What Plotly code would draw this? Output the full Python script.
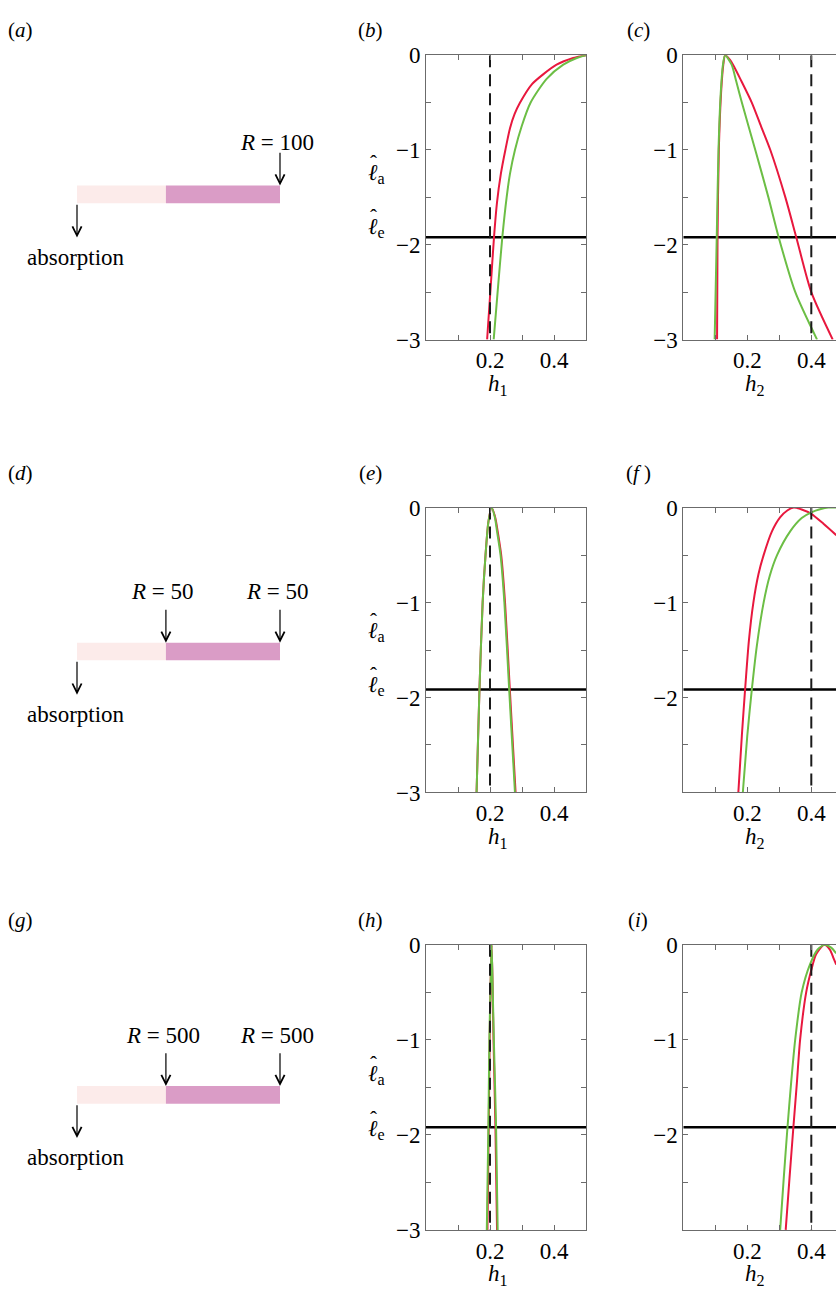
import plotly.graph_objects as go

W, H = 836, 1305
SERIF = "Liberation Serif, Times New Roman, Times, serif"
RED = "#E8183E"
GREEN = "#6CBE45"
AXC = "#6b6b6b"
LIGHT_PINK = "#FCEBEA"
DARK_PINK = "#DA9CC6"

# ---------------- data ----------------
# panel (b): l-hat vs h1, R=100
b_red_h = [0.191, 0.202, 0.2125, 0.222, 0.234, 0.248, 0.2625, 0.277, 0.294, 0.33, 0.367, 0.408, 0.46, 0.5]
b_red_v = [-3.0, -2.45, -1.92, -1.55, -1.25, -1.0, -0.77, -0.62, -0.5, -0.31, -0.2, -0.1, -0.03, 0.0]
b_green_h = [0.2115, 0.225, 0.2385, 0.252, 0.2625, 0.278, 0.299, 0.327, 0.377, 0.429, 0.471, 0.5]
b_green_v = [-3.0, -2.45, -1.92, -1.5, -1.25, -1.0, -0.75, -0.5, -0.25, -0.1, -0.03, 0.0]
# panel (c): l-hat vs h2, R=100
c_red_h = [0.1055, 0.107, 0.111, 0.118, 0.125, 0.131, 0.146, 0.160, 0.178, 0.214, 0.243, 0.272, 0.319, 0.353, 0.400, 0.467]
c_red_v = [-3.0, -1.92, -1.0, -0.4, -0.1, 0.0, -0.05, -0.13, -0.25, -0.5, -0.75, -1.0, -1.5, -1.92, -2.5, -3.0]
c_green_h = [0.098, 0.1045, 0.110, 0.117, 0.124, 0.1306, 0.151, 0.165, 0.183, 0.225, 0.266, 0.298, 0.350, 0.418]
c_green_v = [-3.0, -1.92, -1.0, -0.4, -0.1, 0.0, -0.1, -0.27, -0.5, -1.0, -1.5, -1.92, -2.5, -3.0]
# panel (e): l-hat vs h1, R=50/50
e_red_h = [0.158, 0.167, 0.177, 0.186, 0.195, 0.205, 0.216, 0.224, 0.235, 0.247, 0.262, 0.280]
e_red_v = [-3.0, -1.92, -1.0, -0.5, -0.15, 0.0, -0.1, -0.25, -0.5, -1.0, -1.92, -3.0]
e_green_h = [0.158, 0.167, 0.177, 0.186, 0.195, 0.205, 0.215, 0.222, 0.233, 0.245, 0.260, 0.278]
e_green_v = [-3.0, -1.92, -1.0, -0.5, -0.15, 0.0, -0.1, -0.25, -0.5, -1.0, -1.92, -3.0]
# panel (f): l-hat vs h2, R=50/50
f_red_h = [0.172, 0.183, 0.193, 0.205, 0.219, 0.235, 0.251, 0.277, 0.303, 0.325, 0.345, 0.370, 0.400, 0.438, 0.478]
f_red_v = [-3.0, -2.4, -1.92, -1.4, -1.0, -0.7, -0.5, -0.25, -0.1, -0.03, 0.0, -0.02, -0.066, -0.17, -0.29]
f_green_h = [0.186, 0.200, 0.214, 0.230, 0.251, 0.270, 0.293, 0.334, 0.370, 0.400, 0.430, 0.453, 0.478]
f_green_v = [-3.0, -2.4, -1.92, -1.45, -1.0, -0.72, -0.5, -0.25, -0.11, -0.05, -0.015, 0.0, 0.0]
# panel (h): l-hat vs h1, R=500/500
h_red_h = [0.192, 0.196, 0.199, 0.202, 0.205, 0.208, 0.211, 0.217, 0.222]
h_red_v = [-3.0, -1.92, -1.0, -0.4, 0.0, -0.4, -1.0, -1.92, -3.0]
h_green_h = [0.190, 0.195, 0.198, 0.202, 0.205, 0.208, 0.212, 0.219, 0.224]
h_green_v = [-3.0, -1.92, -1.0, -0.4, 0.0, -0.4, -1.0, -1.92, -3.0]
# panel (i): l-hat vs h2, R=500/500
i_red_h = [0.320, 0.332, 0.344, 0.355, 0.365, 0.384, 0.400, 0.415, 0.440, 0.458, 0.470, 0.478]
i_red_v = [-3.0, -2.45, -1.92, -1.45, -1.0, -0.5, -0.265, -0.1, 0.0, -0.05, -0.145, -0.21]
i_green_h = [0.3027, 0.314, 0.3256, 0.337, 0.3496, 0.370, 0.3966, 0.420, 0.442, 0.462, 0.478]
i_green_v = [-3.0, -2.45, -1.92, -1.45, -1.0, -0.5, -0.2, -0.05, 0.0, -0.03, -0.09]

# reference lines
h_star = [0.2, 0.4]            # dashed verticals: h1 panels, h2 panels
l_e = [-1.92, -1.915, -1.92]    # horizontal l_e line per row

# axis ticks
x_major = [0.2, 0.4]
x_major_labels = ["0.2", "0.4"]
x_minor = [0.1, 0.3]
y_major_full = [-3, -2, -1, 0]
y_major_full_labels = ["−3", "−2", "−1", "0"]
y_major_short = [-2, -1, 0]
y_major_short_labels = ["−2", "−1", "0"]
y_minor = [-2.5, -1.5, -0.5]

# schematic data
segment_edges = [0.0, 0.438, 1.0]
reflector_pos = [[1.0], [0.438, 1.0], [0.438, 1.0]]
reflector_labels = [["<i>R</i> = 100"], ["<i>R</i> = 50", "<i>R</i> = 50"], ["<i>R</i> = 500", "<i>R</i> = 500"]]
absorption_pos = 0.0

# ---------------- layout geometry (pixels) ----------------
def fx(p):
    return p / W

def fy(p):
    return 1 - p / H

col_h1 = (426.0, 586.0)
col_h2 = (683.3, 836.0)
H2_MAX = 0.5 * (col_h2[1] - col_h2[0]) / (col_h1[1] - col_h1[0])
rows = [(44.0, 334.0), (505.3, 795.7), (951.0, 1241.7)]
bar_centers = [186.0, 652.0, 1104.0]
label_rows = [18.0, 470.0, 926.0]

fig = go.Figure()
layout = dict(
    width=W, height=H, margin=dict(l=0, r=0, t=0, b=0),
    paper_bgcolor="white", plot_bgcolor="white", showlegend=False,
)

panels = [
    ("(<i>b</i>)", 0, 0, [(b_red_h, b_red_v, RED), (b_green_h, b_green_v, GREEN)]),
    ("(<i>c</i>)", 0, 1, [(c_red_h, c_red_v, RED), (c_green_h, c_green_v, GREEN)]),
    ("(<i>e</i>)", 1, 0, [(e_red_h, e_red_v, RED), (e_green_h, e_green_v, GREEN)]),
    ("(<i>f</i> )", 1, 1, [(f_red_h, f_red_v, RED), (f_green_h, f_green_v, GREEN)]),
    ("(<i>h</i>)", 2, 0, [(h_red_h, h_red_v, RED), (h_green_h, h_green_v, GREEN)]),
    ("(<i>i</i>)", 2, 1, [(i_red_h, i_red_v, RED), (i_green_h, i_green_v, GREEN)]),
]

annotations = []
shapes = []
tickfont = dict(family=SERIF, size=23, color="black")
minor_style = dict(ticks="inside", ticklen=5, tickcolor=AXC, tickwidth=1, showgrid=False)

for k, (lab, r, c, curves) in enumerate(panels):
    n = k + 1
    xa = "x" if n == 1 else f"x{n}"
    ya = "y" if n == 1 else f"y{n}"
    col = col_h1 if c == 0 else col_h2
    xmax = 0.5 if c == 0 else H2_MAX
    top, bot = rows[r]
    full = (c == 0 or r == 0)
    layout["xaxis" if n == 1 else f"xaxis{n}"] = dict(
        domain=[fx(col[0]), min(1.0, fx(col[1]))], anchor=ya, range=[0, xmax],
        showline=True, linecolor=AXC, linewidth=1, mirror="ticks",
        ticks="inside", ticklen=5, tickcolor=AXC, tickwidth=1,
        tickvals=x_major, ticktext=x_major_labels, tickfont=tickfont,
        minor=dict(tickvals=x_minor, **minor_style),
        showgrid=False, zeroline=False, fixedrange=True,
    )
    layout["yaxis" if n == 1 else f"yaxis{n}"] = dict(
        domain=[fy(bot), fy(top)], anchor=xa, range=[-3, 0],
        showline=True, linecolor=AXC, linewidth=1,
        mirror="ticks" if c == 0 else False,
        ticks="inside", ticklen=5, tickcolor=AXC, tickwidth=1,
        tickvals=(y_major_full if full else y_major_short),
        ticktext=(y_major_full_labels if full else y_major_short_labels),
        minor=dict(tickvals=y_minor, **minor_style),
        tickfont=tickfont, showgrid=False, zeroline=False, fixedrange=True,
    )
    # horizontal l_e line
    fig.add_trace(go.Scatter(x=[0, xmax], y=[l_e[r], l_e[r]], mode="lines",
                             line=dict(color="black", width=2.6), xaxis=xa, yaxis=ya,
                             hoverinfo="skip"))
    # curves
    for hx, vy, colr in curves:
        fig.add_trace(go.Scatter(x=hx, y=vy, mode="lines",
                                 line=dict(color=colr, width=2, shape="spline", smoothing=0.7),
                                 xaxis=xa, yaxis=ya))
    # dashed vertical
    hs = h_star[c]
    fig.add_trace(go.Scatter(x=[hs, hs], y=[0, -3], mode="lines",
                             line=dict(color="#1a1a1a", width=2, dash="12px,7px"),
                             xaxis=xa, yaxis=ya, hoverinfo="skip"))
    # panel label
    lx = 370 if c == 0 else 638
    annotations.append(dict(text=lab, x=fx(lx), y=fy(label_rows[r]), xref="paper", yref="paper",
                            showarrow=False, font=dict(family=SERIF, size=21, color="black"),
                            xanchor="center", yanchor="middle"))
    # axis title
    tname = "<i>h</i><sub>1</sub>" if c == 0 else "<i>h</i><sub>2</sub>"
    annotations.append(dict(text=tname, x=0.225, y=fy(bot + 46), xref=xa, yref="paper",
                            showarrow=False, font=dict(family=SERIF, size=23, color="black"),
                            xanchor="center", yanchor="middle"))

# l-hat labels beside first-column panels (hat raised over the l)
la_rows = [162.0, 629.0, 1081.0]
le_rows = [217.0, 684.0, 1137.0]
HAT = "<sup><span style='font-size:21px;letter-spacing:-9px'>ˆ</span></sup>"
for r in range(3):
    for yy, sub in ((la_rows[r], "a"), (le_rows[r], "e")):
        annotations.append(dict(text=f"{HAT}<i>ℓ</i><sub>{sub}</sub>", x=fx(366), y=fy(yy),
                                xref="paper", yref="paper", showarrow=False, xanchor="left",
                                yanchor="middle", font=dict(family=SERIF, size=23, color="black")))

# left column: row labels and schematics
row_labels = ["(<i>a</i>)", "(<i>d</i>)", "(<i>g</i>)"]
BAR_PX0, BAR_PX1 = 77.0, 280.0
BAR_HALF = 9.0
ARROW_LEN = 35.0
label_offsets = [53.0, 61.0, 61.0]
ABS_TEXT_OFF = 64.0
for r in range(3):
    annotations.append(dict(text=row_labels[r], x=fx(20), y=fy(label_rows[r]), xref="paper",
                            yref="paper", showarrow=False, xanchor="center", yanchor="middle",
                            font=dict(family=SERIF, size=21, color="black")))
    n = 7 + r
    xa, ya = f"x{n}", f"y{n}"
    cy = bar_centers[r]
    span = BAR_PX1 - BAR_PX0
    layout[f"xaxis{n}"] = dict(domain=[0, fx(340)], anchor=ya,
                               range=[-BAR_PX0 / span, (340 - BAR_PX0) / span],
                               visible=False, fixedrange=True)
    layout[f"yaxis{n}"] = dict(domain=[fy(cy + 100), fy(cy - 100)], anchor=xa,
                               range=[-100, 100], visible=False, fixedrange=True)
    fills = [LIGHT_PINK, DARK_PINK]
    for s in range(len(segment_edges) - 1):
        shapes.append(dict(type="rect", xref=xa, yref=ya, x0=segment_edges[s], x1=segment_edges[s + 1],
                           y0=-BAR_HALF, y1=BAR_HALF, fillcolor=fills[s], line=dict(width=0),
                           layer="below"))
    for p, txt in zip(reflector_pos[r], reflector_labels[r]):
        annotations.append(dict(text="", x=p, y=BAR_HALF, ax=p, ay=BAR_HALF + ARROW_LEN,
                                xref=xa, yref=ya, axref=xa, ayref=ya, showarrow=True,
                                arrowhead=5, arrowsize=1.5, arrowwidth=1.2, arrowcolor="black",
                                standoff=0, startstandoff=0))
        annotations.append(dict(text=txt, x=p - 3 / span, y=label_offsets[r], xref=xa, yref=ya,
                                showarrow=False, xanchor="center", yanchor="middle",
                                font=dict(family=SERIF, size=23, color="black")))
    annotations.append(dict(text="", x=absorption_pos, y=-BAR_HALF - ARROW_LEN, ax=absorption_pos,
                            ay=-BAR_HALF, xref=xa, yref=ya, axref=xa, ayref=ya, showarrow=True,
                            arrowhead=5, arrowsize=1.5, arrowwidth=1.2, arrowcolor="black",
                            standoff=0, startstandoff=0))
    annotations.append(dict(text="absorption", x=absorption_pos - 1.5 / span, y=-ABS_TEXT_OFF,
                            xref=xa, yref=ya, showarrow=False, xanchor="center", yanchor="middle",
                            font=dict(family=SERIF, size=23, color="black")))
    fig.add_trace(go.Scatter(x=[0], y=[0], mode="markers", marker=dict(opacity=0),
                             xaxis=xa, yaxis=ya, hoverinfo="skip"))

layout["annotations"] = annotations
layout["shapes"] = shapes
fig.update_layout(**layout)
fig.write_html("out.html", config={"displayModeBar": False},
               post_script="document.body.style.margin='0';document.body.style.overflow='hidden';")
